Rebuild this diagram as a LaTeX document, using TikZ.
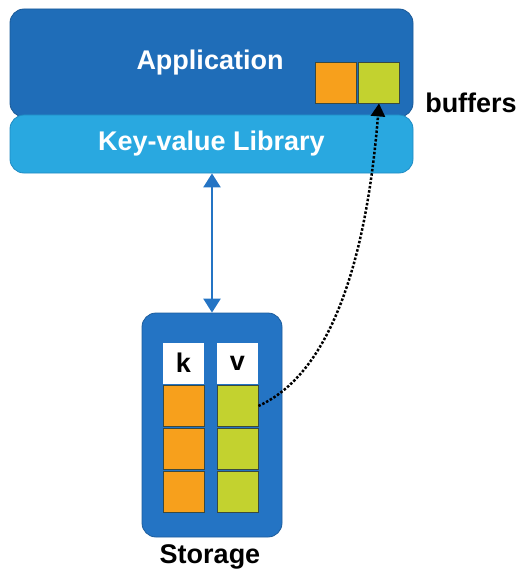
\documentclass[tikz,border=0pt]{standalone}
\usepackage{fontspec}
\setmainfont{Liberation Sans}
\usetikzlibrary{arrows.meta}
\definecolor{appblue}{HTML}{1F6DB8}
\definecolor{appline}{HTML}{1A5A98}
\definecolor{libblue}{HTML}{29A8E0}
\definecolor{libline}{HTML}{1E8BC3}
\definecolor{storeblue}{HTML}{2474C4}
\definecolor{keyorange}{HTML}{F7A01C}
\definecolor{valgreen}{HTML}{C3D22F}
\definecolor{cellline}{HTML}{3A4A40}
\begin{document}
\begin{tikzpicture}[x=1pt, y=-1pt,
    layer/.style={rounded corners=14pt, line width=0.8pt, minimum width=403pt, inner sep=0pt, text=white, font=\fontsize{27}{30}\selectfont\bfseries},
    keycell/.style={draw=cellline, fill=keyorange, line width=0.8pt, minimum size=41pt, inner sep=0pt},
    valcell/.style={draw=cellline, fill=valgreen, line width=0.8pt, minimum size=41pt, inner sep=0pt},
    headcell/.style={fill=white, minimum size=41pt, inner sep=0pt, font=\fontsize{27}{30}\selectfont\bfseries},
    caption/.style={inner sep=0pt, font=\fontsize{27}{30}\selectfont\bfseries}]
\useasboundingbox (0,0) rectangle (516,572);
\node[layer, draw=appline, fill=appblue, minimum height=108pt] (app) at (211.5,63) {};
\node[inner sep=0pt, text=white, font=\fontsize{27}{30}\selectfont\bfseries] (apptext) at (210,63) {Application};
\node[layer, draw=libline, fill=libblue, minimum height=58pt] (lib) at (211.5,144) {Key-value Library};
\node[keycell] (bufk) at (335.5,82.5) {};
\node[valcell] (bufv) at (379,82.5) {};
\node[caption] (buflabel) at (471,103) {buffers};
\node[draw=storeblue!80!black, fill=storeblue, line width=0.8pt, rounded corners=14pt, minimum width=140pt, minimum height=224pt, inner sep=0pt] (store) at (212,425) {};
\node[headcell] (k) at (183.5,363) {k};
\node[headcell] (v) at (237.5,363) {v};
\node[keycell] (k1) at (183.5,406) {};
\node[valcell] (v1) at (237.5,406) {};
\node[keycell] (k2) at (183.5,449) {};
\node[valcell] (v2) at (237.5,449) {};
\node[keycell] (k3) at (183.5,492) {};
\node[valcell] (v3) at (237.5,492) {};
\node[caption] (storelabel) at (210,557) {Storage};
\draw[storeblue, line width=2.5pt, {Triangle[width=17pt,length=14pt]}-{Triangle[width=17pt,length=14pt]}] (lib.south -| store.north) -- (store.north);
\draw[black, line width=2.5pt, dash pattern=on 2.5pt off 1.8pt, -{Triangle[width=14pt,length=13pt]}] (v1.east) .. controls (338,370) and (368,240) .. (bufv.south);
\end{tikzpicture}
\end{document}
